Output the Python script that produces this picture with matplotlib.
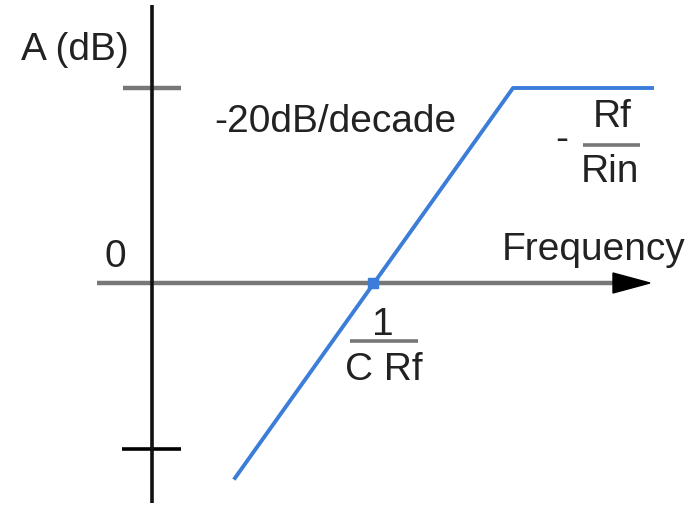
import matplotlib
matplotlib.use("Agg")
import matplotlib.pyplot as plt

# Data (origin at axis crossing; units arbitrary, y = gain in dB-like units)
response_x = [83, 361, 500]        # frequency positions of response corners
response_y = [-195, 195, 195]      # gain values
crossover_x = [221]                # 0 dB crossing (1 / C Rf)
crossover_y = [0]
gain_ticks = [195, -166]           # marks on the A (dB) axis

plt.rcParams['font.family'] = ['Liberation Sans', 'DejaVu Sans']

fig = plt.figure(figsize=(6.89, 5.05), dpi=100)
ax = fig.add_axes([0, 0, 1, 1])
ax.set_xlim(-152, 537)
ax.set_ylim(-222, 283)
ax.axis('off')

fs = 28
# vertical axis
ax.plot([0, 0], [-220, 278], color='#111111', lw=2.6, solid_capstyle='butt', zorder=2)
# horizontal axis
ax.plot([-55, 465], [0, 0], color='#777777', lw=3.2, solid_capstyle='butt', zorder=1)
ax.fill([461, 498, 461], [10, 0, -10], color='black', zorder=2)
# ticks on gain axis
ax.plot([-29, 29], [gain_ticks[0]] * 2, color='#777777', lw=3.2, solid_capstyle='butt', zorder=1)
ax.plot([-30, 29], [gain_ticks[1]] * 2, color='black', lw=2.6, solid_capstyle='butt', zorder=1)

# response
ax.plot(response_x, response_y, color='#3b7dd8', lw=2.8, zorder=3)
ax.plot(crossover_x, crossover_y, 's', color='#3b7dd8', ms=7, zorder=4)

# labels
ax.text(-77, 233, 'A (dB)', fontsize=fs, ha='center', va='center', color='#222222')
ax.text(183, 161, '-20dB/decade', fontsize=fs, ha='center', va='center', color='#222222')
ax.text(-37, 26, '0', fontsize=fs, ha='center', va='center', color='#222222')
ax.text(442, 33, 'Frequency', fontsize=fs, ha='center', va='center', color='#222222')

# - Rf / Rin
ax.text(410, 143, '-', fontsize=fs, ha='center', va='center', color='#222222')
ax.text(460, 166, 'Rf', fontsize=fs, ha='center', va='center', color='#222222')
ax.plot([431, 488], [138, 138], color='#777777', lw=2.6, solid_capstyle='butt')
ax.text(458, 111, 'Rin', fontsize=fs, ha='center', va='center', color='#222222')

# 1 / C Rf
ax.text(231, -42, '1', fontsize=fs, ha='center', va='center', color='#222222')
ax.plot([198, 266], [-58, -58], color='#777777', lw=2.6, solid_capstyle='butt')
ax.text(232, -87, 'C Rf', fontsize=fs, ha='center', va='center', color='#222222')

fig.savefig('out.png', dpi=100)
